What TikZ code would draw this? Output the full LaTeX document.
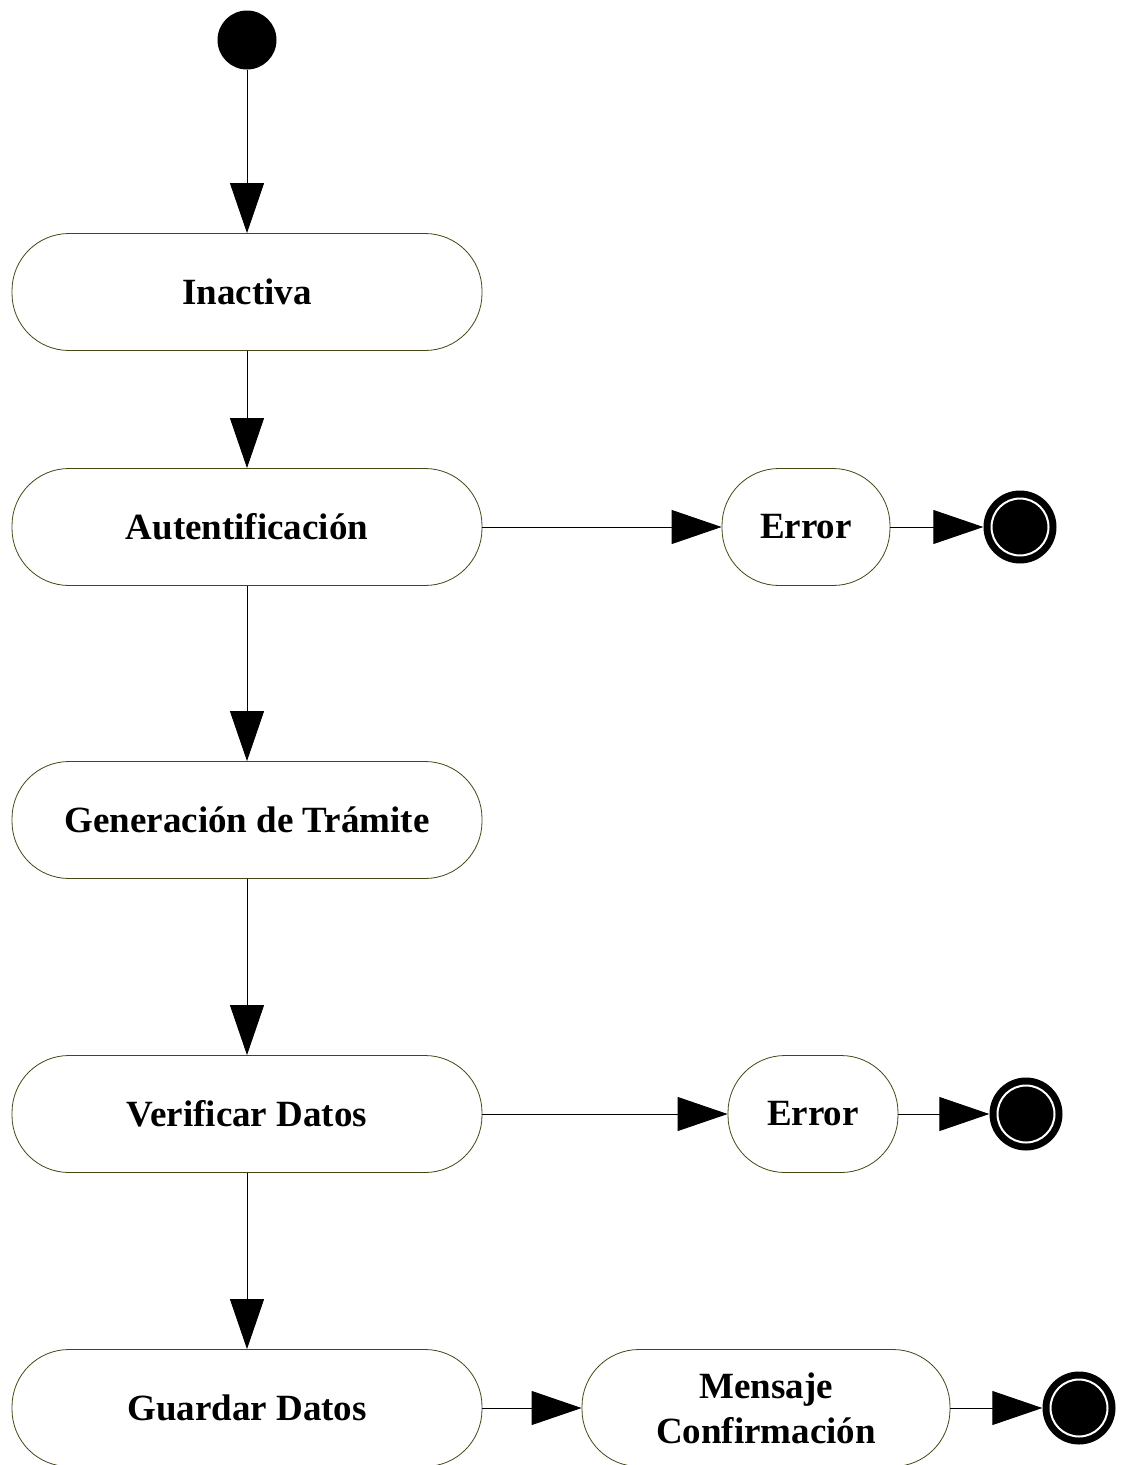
\documentclass[tikz,border=0pt]{standalone}
\usepackage{fontspec}
\setmainfont{Liberation Serif}
\usetikzlibrary{arrows.meta}
\definecolor{edgeolive}{RGB}{70,70,20}
\begin{document}
\begin{tikzpicture}[x=1pt,y=-1pt,
  state/.style={draw=edgeolive, line width=0.8pt, fill=white, rounded corners=57pt,
    minimum width=470pt, minimum height=117pt, inner sep=0pt, align=center,
    font=\fontsize{37}{45}\selectfont\bfseries},
  smallstate/.style={state, minimum width=168pt},
  startst/.style={circle, fill=black, minimum size=59pt, inner sep=0pt},
  endst/.style={circle, fill=black, minimum size=73pt, inner sep=0pt,
    path picture={\draw[white, line width=2pt] (path picture bounding box.center) circle (28.5pt);}},
  flow/.style={line width=0.9pt, -{Triangle[length=50pt, width=34pt]}}
]
\useasboundingbox (0,0) rectangle (1125,1465);

% initial state
\node[startst] (start) at (247,40) {};

% main column
\node[state] (inact) at (247,292) {Inactiva};
\node[state] (auth) at (247,527) {Autentificación};
\node[state] (gen) at (247,820) {Generación de Trámite};
\node[state] (verif) at (247,1114) {Verificar Datos};
\node[state] (save) at (247,1408) {Guardar Datos};

% side branches
\node[smallstate] (err1) at (806,527) {Error};
\node[endst] (end1) at (1020,527) {};
\node[smallstate, minimum width=170pt] (err2) at (813,1114) {Error};
\node[endst] (end2) at (1026,1114) {};
\node[state, minimum width=368pt] (msg) at (766,1408) {Mensaje\\Confirmación};
\node[endst] (end3) at (1079,1408) {};

% transitions
\draw[flow] (start) -- (inact);
\draw[flow] (inact) -- (auth);
\draw[flow] (auth) -- (gen);
\draw[flow] (gen) -- (verif);
\draw[flow] (verif) -- (save);
\draw[flow] (auth) -- (err1);
\draw[flow] (err1) -- (end1);
\draw[flow] (verif) -- (err2);
\draw[flow] (err2) -- (end2);
\draw[flow] (save) -- (msg);
\draw[flow] (msg) -- (end3);
\end{tikzpicture}
\end{document}
